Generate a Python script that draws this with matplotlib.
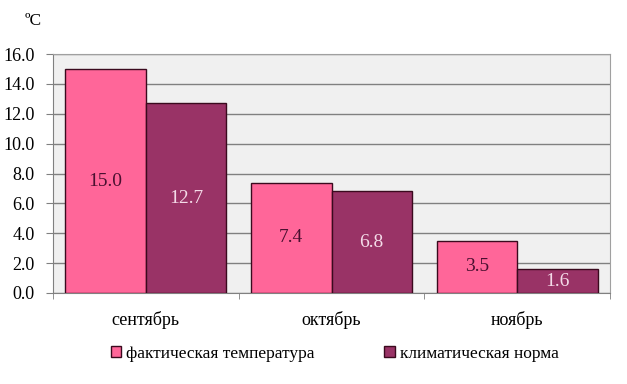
import matplotlib
matplotlib.use("Agg")
import matplotlib.pyplot as plt
import numpy as np

categories = ["сентябрь", "октябрь", "ноябрь"]
actual = [15.0, 7.4, 3.5]
norm = [12.7, 6.8, 1.6]
series_names = ["фактическая температура", "климатическая норма"]
yticks = [0.0, 2.0, 4.0, 6.0, 8.0, 10.0, 12.0, 14.0, 16.0]

plt.rcParams['font.family'] = ['Liberation Serif', 'DejaVu Serif']

fig = plt.figure(figsize=(6.27, 3.84), dpi=100)
ax = fig.add_axes([0.0845, 0.237, 0.8885, 0.622])
ax.set_facecolor('#f0f0f0')

x = np.arange(len(categories))
w = 0.433
c1 = '#ff6699'
c2 = '#993366'
b1 = ax.bar(x - w/2, actual, w, color=c1, edgecolor='#3a0a1e', linewidth=1.0, zorder=3, label=series_names[0])
b2 = ax.bar(x + w/2, norm, w, color=c2, edgecolor='#3a0a1e', linewidth=1.0, zorder=3, label=series_names[1])

for xi, v in zip(x - w/2, actual):
    ax.text(xi, v/2, f"{v:.1f}", ha='center', va='center', fontsize=14, color='#4a1030', zorder=4)
for xi, v in zip(x + w/2, norm):
    ax.text(xi, v/2, f"{v:.1f}", ha='center', va='center', fontsize=14, color='#f4dbe8', zorder=4)

ax.set_xlim(-0.5, len(categories) - 0.5)
ax.set_ylim(0, 16)
ax.set_yticks(yticks)
ax.set_yticklabels([f"{t:.1f}" for t in yticks], fontsize=13)
ax.yaxis.grid(True, color='#808080', linewidth=1.0, zorder=1)
ax.set_axisbelow(True)

ax.set_xticks(x)
ax.set_xticklabels(categories, fontsize=13)
ax.tick_params(axis='x', length=0, pad=13)
ax.set_xticks(np.arange(-0.5, len(categories)), minor=True)
ax.tick_params(axis='x', which='minor', length=4, color='#808080')
ax.tick_params(axis='y', length=5, color='#808080', pad=8)

for s in ['top', 'right']:
    ax.spines[s].set_color('#a0a0a0')
for s in ['left', 'bottom']:
    ax.spines[s].set_color('#808080')

fig.text(0.04, 0.945, "ºC", fontsize=12.5, ha='left', va='center')

fig.legend(handles=[b1, b2], labels=series_names, loc='center', bbox_to_anchor=(0.534, 0.078),
           ncol=2, frameon=False, fontsize=12.5, handlelength=0.6, handleheight=0.6,
           handletextpad=0.3, columnspacing=4.0)

fig.savefig("out.png", dpi=100)
